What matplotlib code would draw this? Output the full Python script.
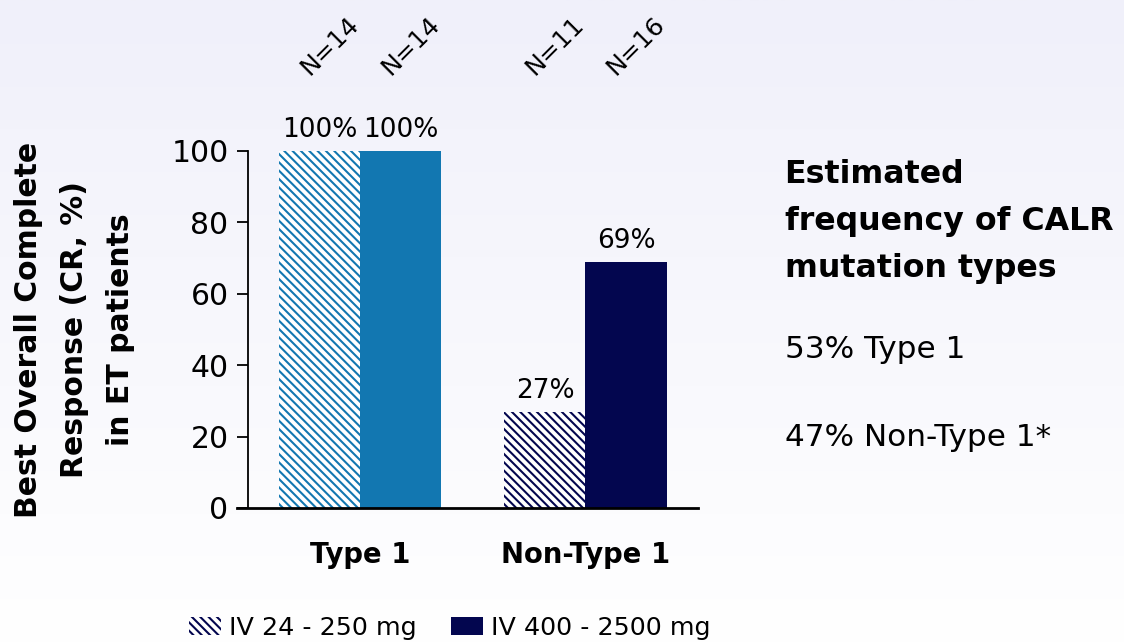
import numpy as np
import matplotlib.pyplot as plt
from matplotlib.patches import Patch

plt.rcParams['font.family'] = ['DejaVu Sans']
plt.rcParams['hatch.linewidth'] = 1.5

# Data
groups = ['Type 1', 'Non-Type 1']
low_dose = [100, 27]     # IV 24 - 250 mg
high_dose = [100, 69]    # IV 400 - 2500 mg
n_low = [14, 11]
n_high = [14, 16]
series_names = ['IV 24 - 250 mg', 'IV 400 - 2500 mg']
bar_colors = ['#1277b1', '#03064f']

fig = plt.figure(figsize=(11.24, 6.43), dpi=100)

# soft lavender-to-white background
bg = fig.add_axes([0, 0, 1, 1], zorder=-1)
grad = np.linspace(0, 1, 256).reshape(-1, 1)
top = np.array([240, 240, 250]) / 255
bot = np.array([255, 255, 255]) / 255
img = top + (bot - top) * grad[..., None]
bg.imshow(img, aspect='auto', extent=[0, 1, 0, 1])
bg.axis('off')

ax = fig.add_axes([0.2206, 0.21, 0.4004, 0.5552])
ax.patch.set_alpha(0)

hatch = '\\\\\\\\'
x = np.arange(len(groups))
w = 0.36
for i in range(len(groups)):
    ax.bar(x[i] - w / 2, low_dose[i], w, facecolor='white', edgecolor=bar_colors[i],
           hatch=hatch, linewidth=0)
    ax.bar(x[i] + w / 2, high_dose[i], w, color=bar_colors[i], linewidth=0)
    for xp, v, n in [(x[i] - w / 2, low_dose[i], n_low[i]),
                     (x[i] + w / 2, high_dose[i], n_high[i])]:
        ax.text(xp, v + 3.9, f'{v}%', ha='center', va='baseline', fontsize=19)
        ax.text(xp + 0.045, 129.5, f'N={n}', rotation=45, ha='center', va='center',
                fontsize=18, clip_on=False)

ax.set_xlim(-0.5, 1.5)
ax.set_ylim(0, 100)
ax.set_yticks([0, 20, 40, 60, 80, 100])
ax.tick_params(axis='y', labelsize=21.5, length=8, width=1.3, direction='out', pad=6)
ax.tick_params(axis='x', length=0, pad=24)
ax.set_xticks(x)
ax.set_xticklabels(groups, fontsize=19.8, fontweight='bold')
ax.spines['top'].set_visible(False)
ax.spines['right'].set_visible(False)
ax.spines['left'].set_linewidth(1.3)
ax.spines['bottom'].set_linewidth(2)
ax.spines['bottom'].set_bounds(-0.55, 1.5)
ax.set_ylabel('Best Overall Complete\nResponse (CR, %)\nin ET patients', fontsize=21.5,
              fontweight='bold', labelpad=26, linespacing=1.75)

handles = [Patch(facecolor='white', edgecolor=bar_colors[1], hatch=hatch, linewidth=0),
           Patch(facecolor=bar_colors[1], linewidth=0)]
fig.legend(handles, series_names, loc='center', bbox_to_anchor=(0.40, 0.023), ncol=2,
           frameon=False, prop={'size': 18.3},
           handlelength=1.26, handleheight=0.7, handletextpad=0.31, columnspacing=1.38)

# side note on mutation frequency
fig.text(0.698, 0.752, 'Estimated\nfrequency of CALR\nmutation types', fontsize=22.8,
         fontweight='bold', va='top', ha='left', linespacing=1.65)
fig.text(0.698, 1 - 350 / 643, '53% Type 1', fontsize=22.4, va='center', ha='left')
fig.text(0.698, 1 - 437 / 643, '47% Non-Type 1*', fontsize=22.4, va='center', ha='left')

fig.savefig('out.png', dpi=100)
